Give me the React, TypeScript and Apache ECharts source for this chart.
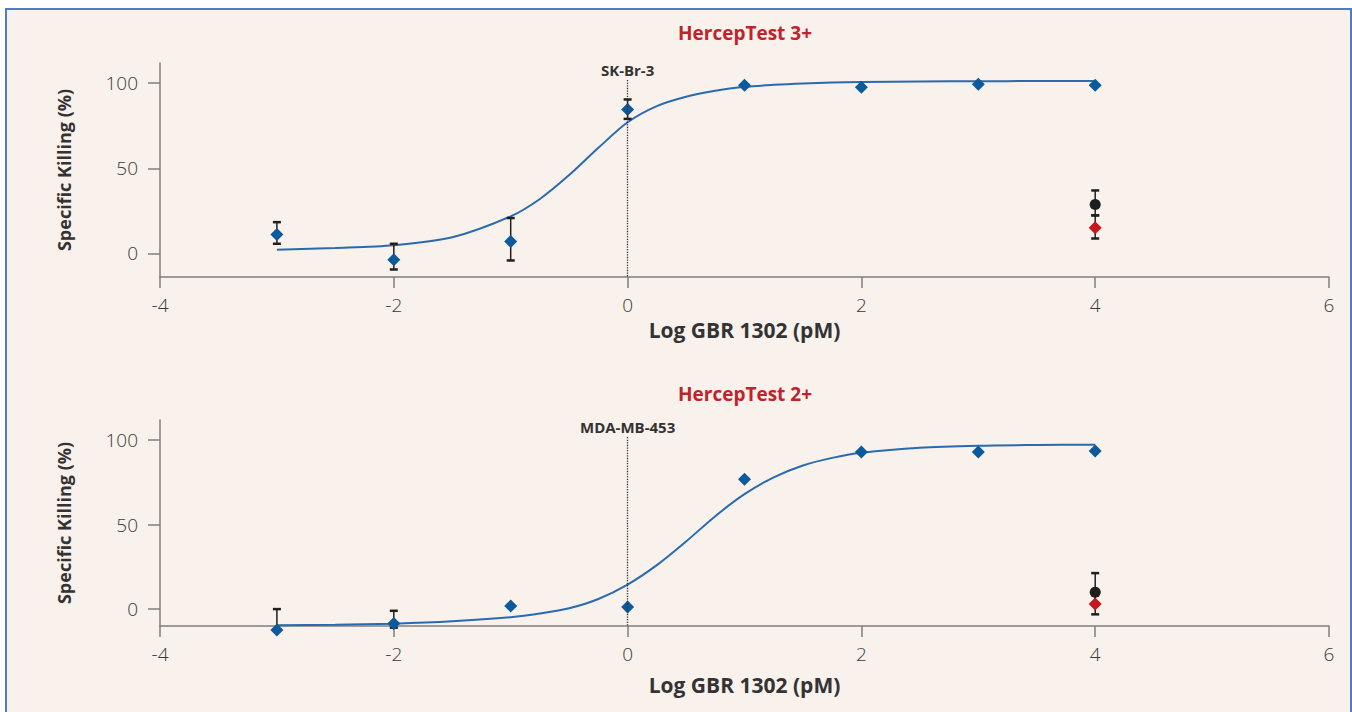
import React, { useEffect, useRef } from "react";
import * as echarts from "echarts";

// ---- data ----
const doseLog = [-3, -2, -1, 0, 1, 2, 3, 4];
const killing3 = [11.2, -3.7, 7.1, 84.5, 98.8, 97.5, 99.4, 98.8];
const killing2 = [-12.4, -8.5, 1.8, 1.2, 76.9, 92.9, 92.9, 93.5];

// error bars: [x, low, high]
const err3 = [
  [-3, 5.7, 18.4],
  [-2, -9.4, 5.7],
  [-1, -4.1, 20.8],
  [0, 79, 90.4],
];
const err2 = [
  [-3, -12.4, 0],
  [-2, -11, -1],
];
const ctrlBlack3 = [[4, 28.8]];
const ctrlRed3 = [[4, 15.1]];
const ctrlBlackErr3 = [[4, 22.4, 37]];
const ctrlRedErr3 = [[4, 8.8, 22.4]];
const ctrlBlack2 = [[4, 10]];
const ctrlRed2 = [[4, 3]];
const ctrlBlackErr2 = [[4, 3, 21.3]];
const ctrlRedErr2 = [[4, -3.1, 9]];

// fitted curves
const curveX = [-3, -2.5, -2, -1.5, -1, -0.75, -0.5, -0.25, 0, 0.25, 0.5, 0.75, 1, 1.25, 1.5, 1.75, 2, 2.5, 3, 3.5, 4];
const curve3 = [2.2, 3.2, 4.8, 9.5, 21.8, 32, 46, 62, 77, 86.5, 92, 95.5, 97.8, 99, 99.8, 100.3, 100.6, 101, 101.1, 101.2, 101.2];
const curve2 = [-9.6, -9.3, -8.6, -7.2, -4.8, -2.6, 0.5, 6, 14.5, 26, 40, 55, 68, 78, 85, 89.5, 92.5, 95.5, 96.7, 97.1, 97.3];

const yTicks = [0, 50, 100];
const titles = ["HercepTest 3+", "HercepTest 2+"];
const cellLines = ["SK-Br-3", "MDA-MB-453"];
const xName = "Log GBR 1302 (pM)";
const yName = "Specific Killing (%)";

const FONT = '"Open Sans", "Noto Sans", sans-serif';
const AXIS = "#7f7f7f";
const BLUE = "#0B5A9C";
const CURVE = "#2A6AAE";

const errRender = (color: string) => (params: any, api: any) => {
  const x = api.value(0);
  const lo = api.value(1);
  const hi = api.value(2);
  const t = api.coord([x, hi]);
  const b = api.coord([x, lo]);
  const hw = 4;
  return {
    type: "group",
    children: [
      { type: "line", shape: { x1: t[0], y1: t[1], x2: b[0], y2: b[1] }, style: { stroke: color, lineWidth: 1.5 } },
      { type: "line", shape: { x1: t[0] - hw, y1: t[1], x2: t[0] + hw, y2: t[1] }, style: { stroke: color, lineWidth: 2.5 } },
      { type: "line", shape: { x1: b[0] - hw, y1: b[1], x2: b[0] + hw, y2: b[1] }, style: { stroke: color, lineWidth: 2.5 } },
    ],
  };
};

export default function App() {
  const ref = useRef<HTMLDivElement>(null);
  useEffect(() => {
    const chart = echarts.init(ref.current!, undefined, { renderer: "svg" });
    const grids = [
      { left: 160, width: 1169, top: 63, height: 214 },
      { left: 160, width: 1169, top: 420, height: 206 },
    ];
    const yMin = [-13.8, -10];
    const yMax = [111.8, 111.9];
    const nameGaps = [42, 48];

    const xAxis = [0, 1].map((i) => ({
      type: "value",
      gridIndex: i,
      min: -4,
      max: 6,
      interval: 2,
      name: xName,
      nameLocation: "middle",
      nameGap: nameGaps[i],
      nameTextStyle: { fontFamily: FONT, fontWeight: "bold", fontSize: 21, color: "#333" },
      axisLine: { show: true, onZero: false, lineStyle: { color: AXIS, width: 1.5 } },
      axisTick: { show: true, length: 11, lineStyle: { color: AXIS, width: 1.5 } },
      axisLabel: { margin: 18, fontSize: 19, fontWeight: 300, color: "#3a3a3a", fontFamily: FONT },
      splitLine: { show: false },
    }));
    const yAxis = [0, 1].map((i) => ({
      type: "value",
      gridIndex: i,
      min: yMin[i],
      max: yMax[i],
      name: yName,
      nameLocation: "middle",
      nameGap: 87,
      nameTextStyle: { fontFamily: FONT, fontWeight: "bold", fontSize: 18, color: "#333" },
      axisLine: { show: true, onZero: false, lineStyle: { color: AXIS, width: 1.5 } },
      axisTick: { show: true, length: 12, customValues: yTicks, lineStyle: { color: AXIS, width: 1.5 } },
      axisLabel: { margin: 22, fontSize: 19, fontWeight: 300, color: "#3a3a3a", fontFamily: FONT, customValues: yTicks },
      splitLine: { show: false },
    }));

    const killing = [killing3, killing2];
    const curves = [curve3, curve2];
    const errs = [err3, err2];
    const blacks = [ctrlBlack3, ctrlBlack2];
    const reds = [ctrlRed3, ctrlRed2];
    const blackErrs = [ctrlBlackErr3, ctrlBlackErr2];
    const redErrs = [ctrlRedErr3, ctrlRedErr2];

    const series: any[] = [];
    [0, 1].forEach((i) => {
      series.push({
        type: "line",
        xAxisIndex: i,
        yAxisIndex: i,
        data: curveX.map((x, k) => [x, curves[i][k]]),
        smooth: 0.3,
        showSymbol: false,
        symbol: "none",
        clip: false,
        lineStyle: { color: CURVE, width: 2 },
        z: 2,
      });
      [errs[i], redErrs[i], blackErrs[i]].forEach((d) =>
        series.push({
          type: "custom",
          xAxisIndex: i,
          yAxisIndex: i,
          data: d,
          renderItem: errRender("#1f1f1f"),
          encode: { x: 0, y: [1, 2] },
          clip: false,
          z: 3,
        })
      );
      series.push({
        type: "scatter",
        xAxisIndex: i,
        yAxisIndex: i,
        data: doseLog.map((x, k) => [x, killing[i][k]]),
        symbol: "diamond",
        symbolSize: 13,
        itemStyle: { color: BLUE, opacity: 1 },
        clip: false,
        z: 4,
        markLine: {
          silent: true,
          symbol: ["none", "none"],
          lineStyle: { type: "dotted", color: "#333", width: 1.3 },
          label: {
            show: true,
            position: "start",
            formatter: cellLines[i],
            fontFamily: FONT,
            fontWeight: "bold",
            fontSize: 15,
            color: "#333",
            distance: 3,
          },
          data: [[{ coord: [0, 101.8] }, { coord: [0, yMin[i]] }]],
        },
      });
      series.push({
        type: "scatter",
        xAxisIndex: i,
        yAxisIndex: i,
        data: reds[i],
        symbol: "diamond",
        symbolSize: 13,
        itemStyle: { color: "#C8161D", opacity: 1 },
        clip: false,
        z: 5,
      });
      series.push({
        type: "scatter",
        xAxisIndex: i,
        yAxisIndex: i,
        data: blacks[i],
        symbol: "circle",
        symbolSize: 11,
        itemStyle: { color: "#1e1e1e", opacity: 1 },
        clip: false,
        z: 5,
      });
    });

    chart.setOption({
      animation: false,
      backgroundColor: "transparent",
      grid: grids,
      xAxis,
      yAxis,
      series,
      graphic: titles.map((t, i) => ({
        type: "text",
        x: 745,
        y: i === 0 ? 33 : 394,
        style: {
          text: t,
          textAlign: "center",
          textVerticalAlign: "middle",
          fill: "#C1232B",
          font: `bold 19px ${FONT}`,
        },
      })),
    });
    return () => chart.dispose();
  }, []);

  return (
    <div style={{ position: "fixed", left: 0, top: 0, width: 1352, height: 712, overflow: "hidden", background: "#fff" }}>
      <div
        style={{
          position: "absolute",
          left: 5,
          top: 8,
          width: 1347,
          height: 730,
          boxSizing: "border-box",
          border: "2px solid #4E7AC7",
          background: "#F9F1EB",
        }}
      />
      <div ref={ref} style={{ position: "absolute", left: 0, top: 0, width: 1352, height: 712 }} />
    </div>
  );
}
